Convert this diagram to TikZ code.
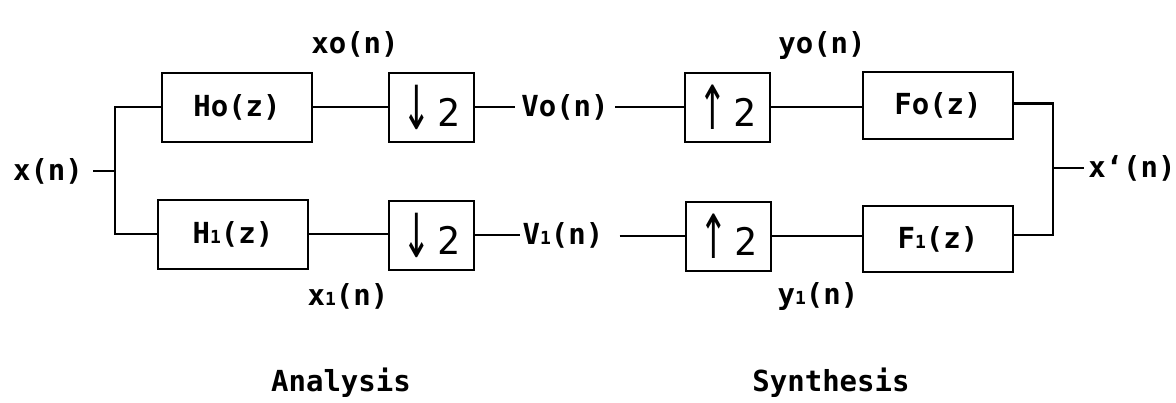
\documentclass[tikz,border=0pt]{standalone}
\usepackage{fontspec}
\setmainfont{DejaVu Sans Mono}
\newfontfamily\arrowfont{DejaVu Sans}
\newcommand{\sone}{{\fontsize{9}{9}\selectfont 1}}
\newcommand{\arr}[1]{\raisebox{-1.5pt}{\scalebox{0.9}[1.6]{\arrowfont #1}}\,}
\begin{document}
\begin{tikzpicture}[x=0.5pt,y=-0.5pt,
  every node/.style={font=\bfseries\fontsize{14.5}{16}\selectfont},
  blk/.style={draw,line width=1pt,minimum height=34.5pt,inner sep=0pt},
  filt/.style={blk,minimum width=75pt},
  rate/.style={blk,minimum width=42.5pt,font=\mdseries\fontsize{19}{20}\selectfont},
  lbl/.style={inner sep=0pt},
  wire/.style={line width=1.1pt}]
\useasboundingbox (0,0) rectangle (1176,402);
% blocks
\node[filt] (H0) at (237,107) {Ho(z)};
\node[filt] (H1) at (233,234) {H\sone(z)};
\node[rate] (D0) at (431.5,107) {\arr{↓}2};
\node[rate] (D1) at (431.5,235) {\arr{↓}2};
\node[rate] (U0) at (727.5,107) {\arr{↑}2};
\node[rate] (U1) at (728.5,236) {\arr{↑}2};
\node[filt,minimum height=33.5pt] (F0) at (938,105.5) {Fo(z)};
\node[filt,minimum height=33pt] (F1) at (938,239) {F\sone(z)};
% signal labels
\node[lbl] (x) at (48,171) {x(n)};
\node[lbl] (V0) at (565,107) {Vo(n)};
\node[lbl] (V1) at (563,235) {V\sone(n)};
\node[lbl,anchor=east] (xo) at (1176,168) {x`(n)};
\node[lbl] (x0) at (355,44) {xo(n)};
\node[lbl] (x1) at (348,296) {x\sone(n)};
\node[lbl] (y0) at (822,45) {yo(n)};
\node[lbl] (y1) at (818,296) {y\sone(n)};
\node[lbl] (an) at (341,383) {Analysis};
\node[lbl] (sy) at (831,383) {Synthesis};
% wiring
\coordinate (sp) at (115,171);
\coordinate (jn) at (1053,168);
\draw[wire] ([xshift=5pt]x.east) -- (sp);
\draw[wire] (sp) |- (H0.west);
\draw[wire] (sp) |- (H1.west);
\draw[wire] (H0.east) -- (H0.east -| D0.west);
\draw[wire] (H1.east) -- (H1.east -| D1.west);
\draw[wire] (D0.east) -- ([xshift=-3pt]V0.west |- D0.east);
\draw[wire] (D1.east) -- ([xshift=-1pt]V1.west |- D1.east);
\draw[wire] ([xshift=3pt]V0.east |- U0.west) -- (U0.west);
\draw[wire] ([xshift=8pt]V1.east |- U1.west) -- (U1.west);
\draw[wire] (U0.east) -- (U0.east -| F0.west);
\draw[wire] (U1.east) -- (U1.east -| F1.west);
\draw[wire] ([yshift=1pt]F0.east) -| (jn);
\draw[wire] ([yshift=2pt]F1.east) -| (jn);
\draw[wire] (jn) -- ([xshift=-2pt]xo.west);
\end{tikzpicture}
\end{document}
